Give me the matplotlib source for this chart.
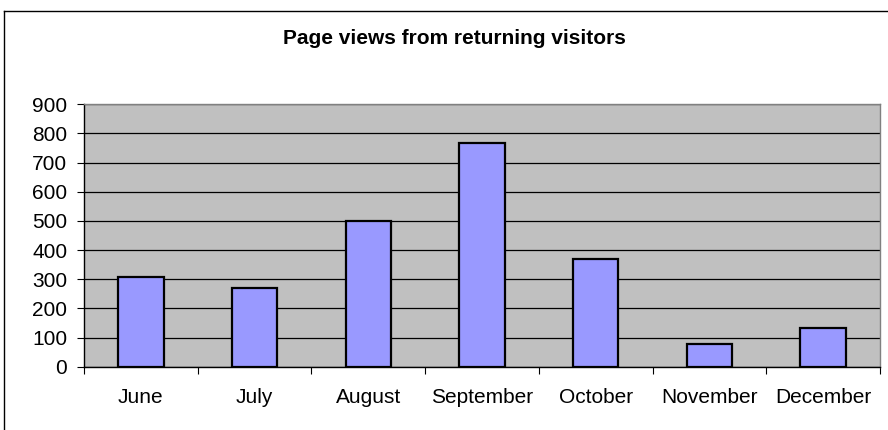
import matplotlib
matplotlib.use("Agg")
import matplotlib.pyplot as plt
from matplotlib.lines import Line2D

# data
months = ["June", "July", "August", "September", "October", "November", "December"]
page_views = [307, 270, 500, 766, 369, 78, 133]
y_ticks = list(range(0, 1000, 100))

plt.rcParams["font.family"] = ["Liberation Sans", "DejaVu Sans"]

W, H = 888, 430
fig = plt.figure(figsize=(W / 100, H / 100), dpi=100)
fig.patch.set_facecolor("white")

# outer chart frame (cut off on the right and bottom like the original)
fig.add_artist(Line2D([4 / W, 1.0], [1 - 11 / H, 1 - 11 / H], color="black", lw=1.0))
fig.add_artist(Line2D([4 / W, 4 / W], [0.0, 1 - 11 / H], color="black", lw=1.0))

ax = fig.add_axes([84 / W, 63.3 / H, 796 / W, 262.4 / H])
ax.set_facecolor("#C0C0C0")

x = list(range(len(months)))
ax.bar(x, page_views, width=0.4, color="#9999FF", edgecolor="black", linewidth=1.6, zorder=3)

ax.set_xlim(-0.5, len(months) - 0.5)
ax.set_ylim(0, 900)
ax.set_yticks(y_ticks)
ax.set_yticklabels([str(v) for v in y_ticks], fontsize=15)
ax.yaxis.grid(True, color="black", lw=0.9, zorder=1)
ax.set_axisbelow(True)

# tick marks between categories, labels centred on each category
ax.set_xticks([i - 0.5 for i in range(len(months) + 1)])
ax.set_xticklabels([])
ax.set_xticks(x, minor=True)
ax.set_xticklabels(months, minor=True, fontsize=15)
ax.tick_params(axis="x", which="major", direction="out", length=5, width=0.8)
ax.tick_params(axis="x", which="minor", length=0, pad=15)
ax.tick_params(axis="y", direction="out", length=5, width=0.8, pad=7)

for side in ["top", "right"]:
    ax.spines[side].set_color("#808080")
    ax.spines[side].set_linewidth(1.0)
for side in ["left", "bottom"]:
    ax.spines[side].set_color("black")
    ax.spines[side].set_linewidth(1.0)

fig.text(454.7 / W, 1 - 44 / H, "Page views from returning visitors",
         ha="center", va="baseline", fontsize=15, fontweight="bold")

fig.savefig("out.png", dpi=100)
